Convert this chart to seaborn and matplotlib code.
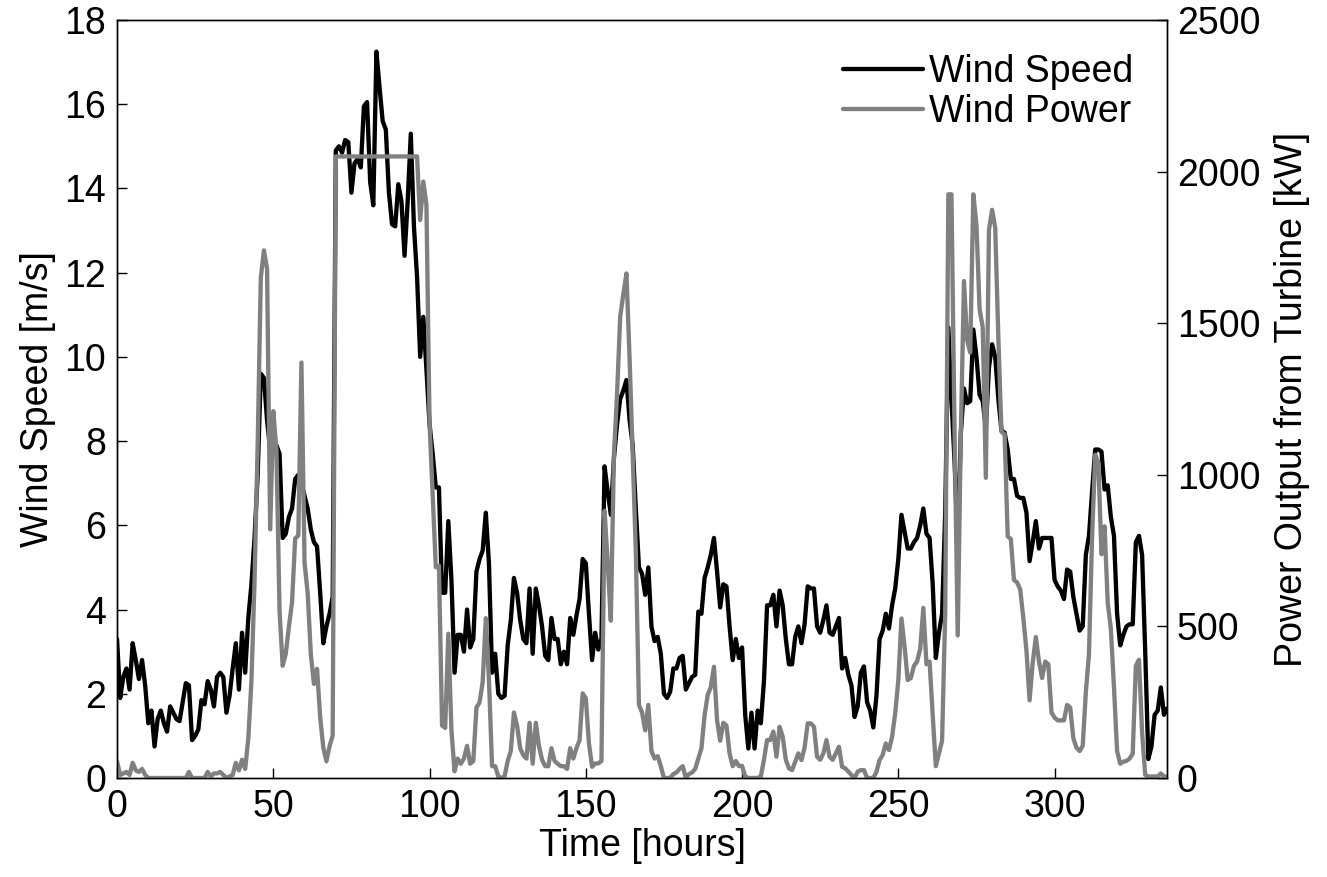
import matplotlib
matplotlib.use("Agg")
import matplotlib.pyplot as plt
import pandas as pd
import seaborn as sns

sns.set_theme(style="ticks")
plt.rcParams["font.family"] = ["Liberation Sans", "DejaVu Sans"]
plt.rcParams["text.color"] = "black"
plt.rcParams["axes.labelcolor"] = "black"

# hourly wind speed [m/s]
wind_speed = [
    3.3, 1.9, 2.4, 2.6, 2.1, 3.2, 2.8, 2.35, 2.8, 2.2,
    1.3, 1.6, 0.75, 1.4, 1.6, 1.3, 1.1, 1.7, 1.55, 1.4,
    1.35, 1.8, 2.25, 2.2, 0.9, 1.0, 1.15, 1.85, 1.75, 2.3,
    2.1, 1.7, 2.4, 2.5, 2.4, 1.55, 1.95, 2.6, 3.2, 2.1,
    3.45, 2.5, 3.8, 4.6, 5.7, 7.2, 9.6, 9.5, 8.5, 7.8,
    7.9, 7.9, 7.7, 5.7, 5.8, 6.2, 6.4, 7.1, 7.2, 7.0,
    6.7, 6.4, 5.9, 5.6, 5.5, 4.4, 3.2, 3.6, 3.9, 4.3,
    14.9, 15.0, 14.85, 15.15, 15.1, 13.9, 14.6, 14.7, 14.5, 15.95,
    16.05, 14.15, 13.6, 17.25, 16.4, 15.6, 15.4, 13.9, 13.15, 13.1,
    14.1, 13.7, 12.4, 13.7, 15.3, 13.1, 11.9, 10.0, 10.95, 9.7,
    8.4, 7.7, 6.9, 6.9, 4.4, 4.4, 6.1, 4.7, 2.5, 3.4,
    3.4, 3.0, 4.0, 3.1, 3.3, 4.9, 5.2, 5.4, 6.3, 5.1,
    2.5, 2.95, 2.0, 1.9, 1.95, 3.15, 3.75, 4.75, 4.4, 3.75,
    3.3, 3.2, 4.5, 2.95, 4.5, 4.1, 3.6, 2.9, 2.8, 3.8,
    3.3, 3.3, 2.7, 3.0, 2.7, 3.8, 3.4, 3.85, 4.25, 5.2,
    5.1, 3.9, 2.8, 3.45, 3.05, 3.3, 7.4, 6.8, 6.25, 7.6,
    8.4, 9.0, 9.2, 9.45, 8.5, 7.9, 6.4, 5.0, 4.85, 4.35,
    5.0, 3.6, 3.25, 3.35, 2.95, 2.0, 1.9, 2.05, 2.6, 2.6,
    2.85, 2.9, 2.1, 2.25, 2.4, 2.45, 3.95, 3.9, 4.75, 5.0,
    5.3, 5.7, 4.9, 4.05, 4.6, 4.55, 3.6, 2.8, 3.3, 2.85,
    3.1, 1.5, 0.7, 1.55, 0.7, 1.6, 1.3, 2.3, 4.1, 4.1,
    4.35, 3.6, 4.45, 4.1, 3.3, 2.7, 2.7, 3.35, 3.6, 3.2,
    3.65, 4.55, 4.5, 4.5, 3.6, 3.45, 3.75, 4.1, 3.45, 3.4,
    3.6, 3.8, 2.6, 2.85, 2.45, 2.2, 1.45, 1.7, 2.5, 2.65,
    1.8, 1.6, 1.2, 1.95, 3.3, 3.5, 3.9, 3.55, 4.1, 4.5,
    5.2, 6.25, 5.85, 5.45, 5.45, 5.6, 5.7, 6.0, 6.4, 5.8,
    5.7, 4.6, 2.85, 3.45, 3.9, 6.3, 10.7, 9.0, 7.5, 5.5,
    8.2, 9.25, 8.9, 8.95, 10.65, 10.0, 9.1, 8.95, 8.3, 9.75,
    10.3, 10.0, 9.0, 8.25, 8.2, 7.8, 7.1, 7.1, 6.7, 6.65,
    6.65, 6.3, 5.15, 5.6, 6.1, 5.45, 5.7, 5.7, 5.7, 5.7,
    4.7, 4.55, 4.45, 4.25, 4.95, 4.9, 4.3, 3.9, 3.5, 3.6,
    5.3, 5.75, 6.8, 7.8, 7.8, 7.75, 6.85, 6.95, 6.2, 5.75,
    3.9, 3.15, 3.4, 3.6, 3.65, 3.65, 5.6, 5.75, 5.3, 3.0,
    0.45, 0.75, 1.5, 1.6, 2.15, 1.5, 1.65,
]

# hourly turbine output [kW]
wind_power = [
    55, 10, 15, 20, 10, 50, 25, 20, 30, 10,
    0, 0, 0, 0, 0, 0, 0, 0, 0, 0,
    0, 0, 0, 20, 0, 0, 0, 0, 0, 20,
    5, 15, 15, 20, 10, 0, 5, 10, 50, 25,
    60, 30, 130, 320, 650, 1100, 1650, 1740, 1680, 820,
    1210, 1080, 550, 370, 410, 500, 580, 790, 800, 1370,
    710, 610, 410, 310, 360, 200, 100, 55, 105, 140,
    2050, 2050, 2050, 2050, 2050, 2050, 2050, 2050, 2050, 2050,
    2050, 2050, 2050, 2050, 2050, 2050, 2050, 2050, 2050, 2050,
    2050, 2050, 2050, 2050, 2050, 2050, 2050, 1840, 1967, 1890,
    1170, 930, 695, 700, 173, 165, 476, 157, 22, 64,
    47, 64, 106, 47, 56, 232, 249, 317, 527, 325,
    39, 39, 5, 0, 5, 56, 89, 216, 173, 98,
    75, 64, 182, 47, 182, 106, 60, 39, 39, 98,
    56, 47, 39, 39, 30, 98, 64, 98, 125, 279,
    263, 114, 37, 48, 48, 56, 881, 712, 519, 1066,
    1268, 1521, 1596, 1664, 1386, 1066, 746, 241, 216, 157,
    241, 89, 64, 72, 39, 0, 0, 0, 13, 18,
    30, 39, 0, 13, 18, 30, 64, 98, 207, 274,
    300, 367, 190, 123, 182, 173, 81, 39, 56, 39,
    40, 5, 0, 0, 0, 0, 5, 60, 125, 125,
    153, 70, 169, 136, 60, 32, 26, 54, 81, 59,
    100, 180, 180, 169, 70, 60, 81, 125, 70, 60,
    81, 103, 37, 32, 21, 10, 0, 21, 26, 26,
    0, 0, 0, 20, 59, 76, 114, 92, 136, 213,
    323, 526, 433, 323, 330, 370, 384, 426, 561, 375,
    384, 207, 39, 81, 123, 544, 1925, 1925, 1133, 470,
    1133, 1639, 1445, 1403, 1925, 1824, 1546, 1487, 990, 1807,
    1874, 1815, 1453, 1142, 1133, 797, 788, 653, 645, 622,
    527, 420, 256, 380, 465, 384, 330, 384, 375, 216,
    199, 190, 190, 190, 241, 232, 131, 100, 89, 106,
    283, 409, 797, 1066, 1041, 738, 830, 578, 493, 300,
    89, 47, 54, 56, 64, 80, 370, 390, 150, 10,
    5, 5, 5, 5, 15, 5, 5,
]

hours = list(range(len(wind_speed)))
x_ticks = [0, 50, 100, 150, 200, 250, 300]
speed_ticks = [0, 2, 4, 6, 8, 10, 12, 14, 16, 18]
power_ticks = [0, 500, 1000, 1500, 2000, 2500]

df = pd.DataFrame({"hour": hours, "speed": wind_speed, "power": wind_power})

fs = 27
fig = plt.figure(figsize=(13.27, 8.77), dpi=100)
ax = fig.add_axes([0.0882, 0.1129, 0.7913, 0.8643])
ax2 = ax.twinx()

sns.lineplot(df, x="hour", y="speed", color="black", linewidth=3.1,
             ax=ax, label="Wind Speed", legend=False)
sns.lineplot(df, x="hour", y="power", color="#808080", linewidth=3.1,
             ax=ax2, label="Wind Power", legend=False)

ax.set_xlim(0, 336)
ax.set_ylim(0, 18)
ax2.set_ylim(0, 2500)
ax.set_xticks(x_ticks)
ax.set_yticks(speed_ticks)
ax2.set_yticks(power_ticks)

ax.set_xlabel("Time [hours]", fontsize=fs, labelpad=2, color="black")
ax.set_ylabel("Wind Speed [m/s]", fontsize=fs, labelpad=6, color="black")
ax2.set_ylabel("Power Output from Turbine [kW]", fontsize=fs, labelpad=10,
               color="black")

ax.tick_params(axis="both", direction="in", length=7, width=1,
               labelsize=fs, colors="black", pad=8)
ax2.tick_params(axis="y", direction="in", length=7, width=1,
                labelsize=fs, colors="black", pad=7)
for a in (ax, ax2):
    for s in a.spines.values():
        s.set_color("black")
        s.set_linewidth(1)

h1, l1 = ax.get_legend_handles_labels()
h2, l2 = ax2.get_legend_handles_labels()
leg = ax2.legend(h1 + h2, l1 + l2, loc="upper right", frameon=False,
                 fontsize=fs, handlelength=2.15, handletextpad=0.15,
                 labelspacing=0.12, borderaxespad=0.5)
for t in leg.get_texts():
    t.set_color("black")

fig.savefig("out.png", dpi=100)
